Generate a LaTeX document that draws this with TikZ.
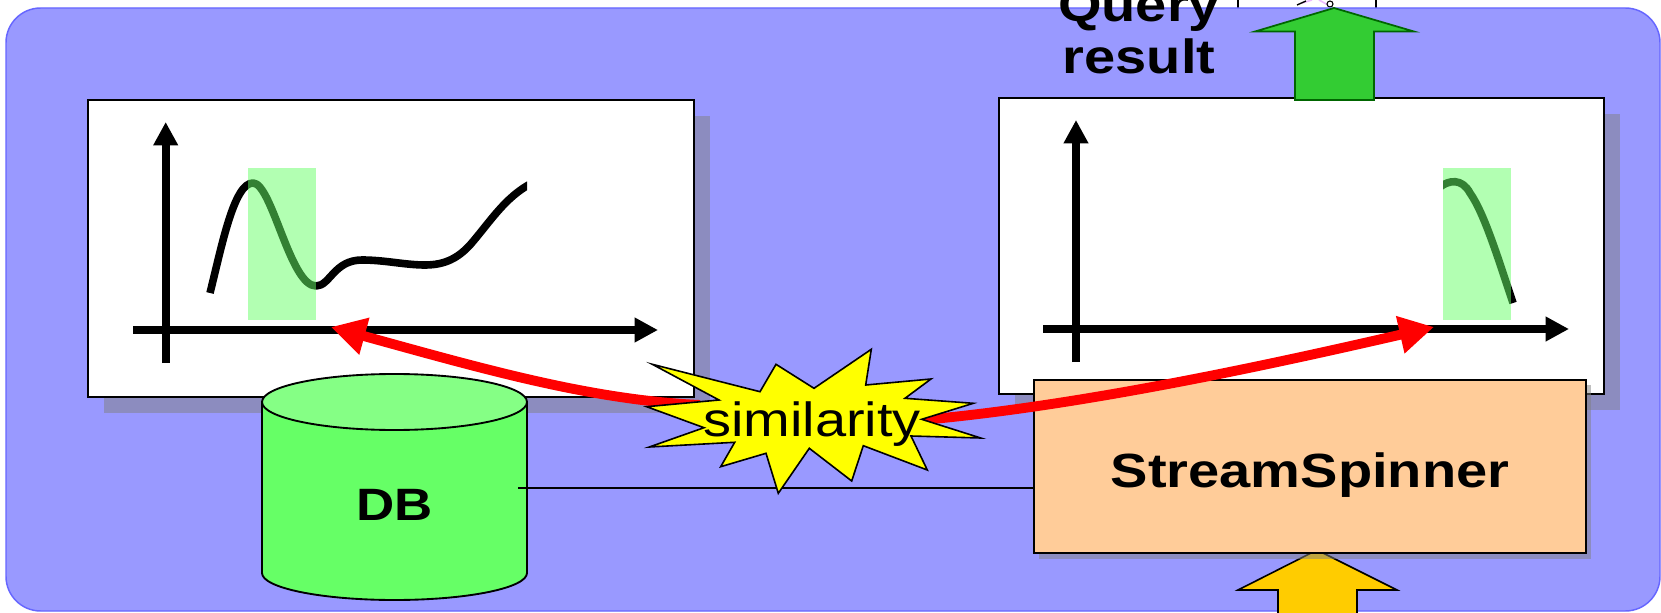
\documentclass[tikz,border=0pt]{standalone}
\usepackage{fontspec}
\setmainfont[FakeStretch=1.167]{Liberation Sans}
\usetikzlibrary{arrows.meta}
\def\px{0.75pt}
\definecolor{bgblue}{HTML}{9999FF}
\definecolor{bgedge}{HTML}{6666FF}
\definecolor{dbbody}{HTML}{66FF66}
\definecolor{dbtop}{HTML}{85FF85}
\definecolor{ssfill}{HTML}{FFCC99}
\definecolor{upgreen}{HTML}{33CC33}
\definecolor{upedge}{HTML}{006600}
\definecolor{inyellow}{HTML}{FFCC00}
\definecolor{starfill}{HTML}{FFFF00}
\definecolor{arrowred}{HTML}{FF0000}
\definecolor{shadowgray}{HTML}{808080}
\definecolor{lightpink}{HTML}{EEBBFF}
\tikzset{
  panel/.style={draw=black,line width=2pt,fill=white,inner sep=0pt,outer sep=0pt,minimum width=#1},
  shadowbox/.style={fill=shadowgray,fill opacity=.5,draw=none},
  axisline/.style={line width=6pt,-{Triangle[length=17.5pt,width=17.5pt]}},
  window/.style={fill=dbbody,fill opacity=.5,draw=none},
  curveline/.style={line width=5.7pt,line cap=butt,line join=round},
  simarrow/.style={arrowred,line width=7.4pt,-{Triangle[length=26pt,width=27pt]}},
  boldtext/.style={font=\fontsize{36}{39}\selectfont\bfseries,inner sep=0pt,text=black},
}
\begin{document}
\begin{tikzpicture}[x=0.75pt,y=-0.75pt]
\useasboundingbox (0,0) rectangle (1661,613);
\clip (0,0) rectangle (1661,613);
\fill[white] (0,0) rectangle (1661,613);
% fragment of the slide above
\draw[line width=1pt] (1238,0) -- (1238,9);
\draw[line width=1pt] (1376,0) -- (1376,9);
\draw[lightpink,line width=1.2pt] (1302,3) -- (1312,0);
\draw[lightpink,line width=1.2pt] (1319,0) -- (1328,5);
\draw[line width=1pt] (1297,5) -- (1306,1);
\draw[line width=.8pt] (1330,4) circle (3);
% background
\draw[fill=bgblue,draw=bgedge,line width=1.1pt,rounded corners=26pt] (6,8) rectangle (1660,611);
% query result label
\node[boldtext,align=center,anchor=south] (qr) at (1139,74) {Query\\result};
% left panel
\fill[shadowbox] (104,116) rectangle (710,413);
\node[panel=606*\px,minimum height=297*\px] (lpanel) at (391,248.5) {};
\begin{scope}
\clip (150,150) rectangle (527,320);
\draw[curveline] (210,293) .. controls (222,245) and (234,183) .. (253,183)
  .. controls (272,183) and (290,286) .. (316,286)
  .. controls (330,286) and (334,260) .. (362,260)
  .. controls (385,260) and (405,265) .. (425,265)
  .. controls (445,265) and (458,258) .. (470,245)
  .. controls (490,222) and (505,197) .. (532,183);
\end{scope}
\fill[window] (248,168) rectangle (316,320);
\draw[axisline] (165.7,363) -- (165.7,122);
\draw[axisline] (133,330) -- (658,330);
% right panel
\fill[shadowbox] (1015,114) rectangle (1620,410);
\node[panel=605*\px,minimum height=296*\px] (rpanel) at (1301.5,246) {};
\begin{scope}
\clip (1443,150) rectangle (1530,320);
\draw[curveline] (1440,187) .. controls (1449,180) and (1462,178) .. (1470,193)
  .. controls (1484,213) and (1497,255) .. (1513,303);
\end{scope}
\fill[window] (1443,168) rectangle (1511,320);
\draw[axisline] (1076,362) -- (1076,120);
\draw[axisline] (1043,329) -- (1569,329);
% input arrow
\draw[fill=inyellow,line width=1.2pt,line join=miter] (1317,550) -- (1397,590) -- (1357,590) -- (1357,620) -- (1278,620) -- (1278,590) -- (1238,590) -- cycle;
% StreamSpinner
\fill[shadowbox] (1039,385) rectangle (1591,559);
\node[draw=black,line width=1.3pt,fill=ssfill,minimum width=552*\px,minimum height=173*\px,inner sep=0pt,outer sep=0pt,boldtext,text depth=0pt,text height=31pt] (ss) at (1310,466.5) {StreamSpinner};
% result arrow
\draw[fill=upgreen,draw=upedge,line width=1.3pt,line join=miter] (1334,8) -- (1414,31.5) -- (1374,31.5) -- (1374,100) -- (1295,100) -- (1295,31.5) -- (1255,31.5) -- cycle;
% DB cylinder
\draw[fill=dbbody,line width=1.4pt] (262,402) -- (262,573) arc[start angle=180,end angle=360,x radius=132.5,y radius=-27] -- (527,402) -- cycle;
\draw[fill=dbtop,line width=1.4pt] (394.5,402) ellipse[x radius=132.5,y radius=28];
\node[font=\fontsize{34}{36}\selectfont\bfseries,inner sep=0pt,anchor=base] (db) at (395,520) {DB};
\coordinate (dbport) at (518,488);
\draw[line width=1pt] (dbport) -- (dbport -| ss.west);
% similarity arrows
\coordinate (simL) at (700,405);
\coordinate (simR) at (922,420);
\coordinate (tipL) at (331,327);
\coordinate (tipR) at (1434,327);
\draw[simarrow] (simL) .. controls (590,400) and (480,368) .. (tipL);
\draw[simarrow] (simR) .. controls (1090,405) and (1290,360) .. (tipR);
% star
\draw[fill=starfill,line width=1.2pt,line join=miter] (652.3,364.3) -- (760,391.7) -- (776,364.3) -- (814,388.3) -- (871.3,349.3) -- (865.7,385) -- (931,379) -- (905,398.3) -- (973.3,403.3) -- (921.7,419.3) -- (980.7,438) -- (911,436) -- (927.3,470) -- (863.3,445.7) -- (851.7,481) -- (809.3,448.3) -- (778.3,493.3) -- (766,453.3) -- (720.7,466.7) -- (734.7,442.3) -- (649.3,447) -- (704,427.7) -- (646.7,406.7) -- (719,400) -- cycle;
\node[font=\fontsize{36}{39}\selectfont,inner sep=0pt,anchor=base] (sim) at (812,436) {similarity};
\end{tikzpicture}
\end{document}
